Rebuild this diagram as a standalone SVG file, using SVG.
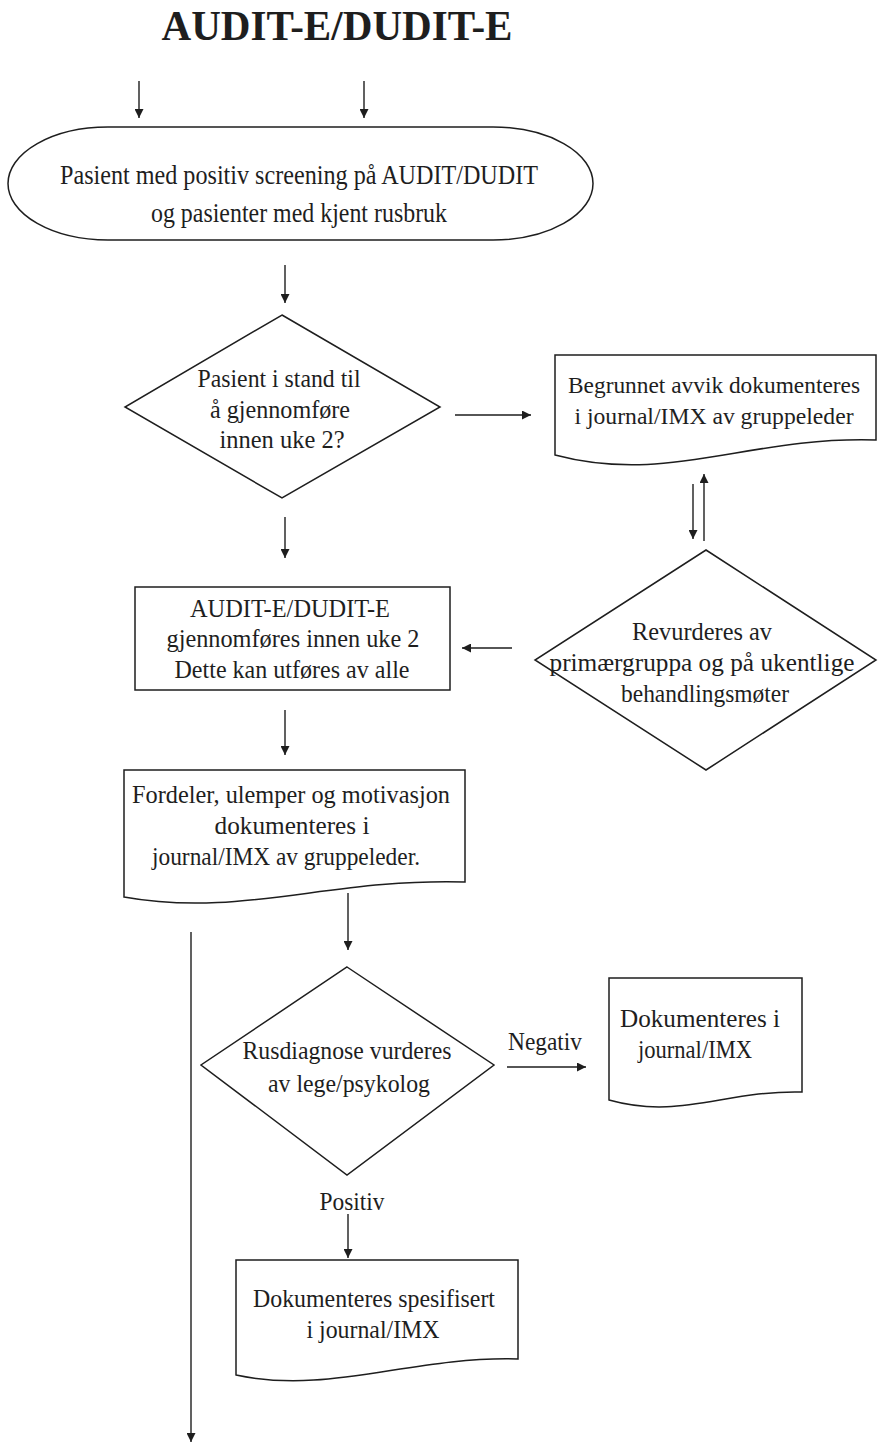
<svg xmlns="http://www.w3.org/2000/svg" width="878" height="1443" viewBox="0 0 878 1443">
  <defs>
    <marker id="ah" viewBox="0 0 10 10" refX="10" refY="5" markerWidth="9" markerHeight="9" markerUnits="userSpaceOnUse" orient="auto">
      <path d="M0,0 L10,5 L0,10 Z" fill="#1e1e1e"/>
    </marker>
    <style>
      .shape { fill: #ffffff; stroke: #1e1e1e; stroke-width: 1.5; }
      .edge { fill: none; stroke: #1e1e1e; stroke-width: 1.4; marker-end: url(#ah); }
      .t { font-family: "Liberation Serif", "Times New Roman", serif; font-size: 26px; fill: #1e1e1e; text-anchor: middle; }
      .big { font-size: 28px; }
      .mid { font-size: 25px; }
      .small { font-size: 23.5px; }
      .title { font-family: "Liberation Serif", "Times New Roman", serif; font-size: 42px; font-weight: bold; fill: #1e1e1e; text-anchor: middle; }
    </style>
  </defs>
  <rect x="0" y="0" width="878" height="1443" fill="#ffffff"/>

  <text class="title" x="337" y="40" textLength="351" lengthAdjust="spacingAndGlyphs">AUDIT-E/DUDIT-E</text>

  <g id="start">
    <rect class="shape" x="8" y="127" width="585" height="113" rx="100" ry="56.5"/>
    <text class="t big" x="299" y="184" textLength="478" lengthAdjust="spacingAndGlyphs">Pasient med positiv screening på  AUDIT/DUDIT</text>
    <text class="t big" x="299" y="222" textLength="296" lengthAdjust="spacingAndGlyphs">og pasienter med kjent rusbruk</text>
  </g>

  <g id="decision-able">
    <path class="shape" d="M282,315 L440,407 L282,498 L125,407 Z"/>
    <text class="t mid" x="279" y="387" textLength="163" lengthAdjust="spacingAndGlyphs">Pasient i stand til</text>
    <text class="t mid" x="280" y="418" textLength="140" lengthAdjust="spacingAndGlyphs">å gjennomføre</text>
    <text class="t mid" x="282" y="448" textLength="125" lengthAdjust="spacingAndGlyphs">innen uke 2?</text>
  </g>

  <g id="doc-deviation">
    <path class="shape" d="M555,355 H876 V440 C748,436 668,485 555,455 Z"/>
    <text class="t small" x="714" y="393" textLength="292" lengthAdjust="spacingAndGlyphs">Begrunnet avvik dokumenteres</text>
    <text class="t small" x="714" y="424" textLength="279" lengthAdjust="spacingAndGlyphs">i journal/IMX av gruppeleder</text>
  </g>

  <g id="decision-review">
    <path class="shape" d="M706,550 L876,660 L706,770 L535,660 Z"/>
    <text class="t" x="702" y="640" textLength="140" lengthAdjust="spacingAndGlyphs">Revurderes av</text>
    <text class="t" x="702" y="671" textLength="305" lengthAdjust="spacingAndGlyphs">primærgruppa  og  på ukentlige</text>
    <text class="t" x="705" y="702" textLength="168" lengthAdjust="spacingAndGlyphs">behandlingsmøter</text>
  </g>

  <g id="task-audit">
    <rect class="shape" x="135" y="587" width="315" height="103"/>
    <text class="t" x="290" y="617" textLength="200" lengthAdjust="spacingAndGlyphs">AUDIT-E/DUDIT-E</text>
    <text class="t" x="293" y="647" textLength="253" lengthAdjust="spacingAndGlyphs">gjennomføres innen uke 2</text>
    <text class="t" x="292" y="678" textLength="235" lengthAdjust="spacingAndGlyphs">Dette kan utføres av alle</text>
  </g>

  <g id="doc-motivation">
    <path class="shape" d="M124,770 H465 V882 C330,878 240,918 124,897 Z"/>
    <text class="t" x="291" y="803" textLength="318" lengthAdjust="spacingAndGlyphs">Fordeler, ulemper og motivasjon</text>
    <text class="t" x="292" y="834" textLength="155" lengthAdjust="spacingAndGlyphs">dokumenteres  i</text>
    <text class="t" x="286" y="865" textLength="268" lengthAdjust="spacingAndGlyphs">journal/IMX av gruppeleder.</text>
  </g>

  <g id="decision-diagnosis">
    <path class="shape" d="M347,967 L494,1065 L347,1175 L201,1065 Z"/>
    <text class="t" x="347" y="1059" textLength="209" lengthAdjust="spacingAndGlyphs">Rusdiagnose vurderes</text>
    <text class="t" x="349" y="1092" textLength="162" lengthAdjust="spacingAndGlyphs">av lege/psykolog</text>
  </g>

  <g id="doc-negative">
    <path class="shape" d="M609,978 H802 V1092 C725,1090 680,1120 609,1100 Z"/>
    <text class="t" x="700" y="1027" textLength="160" lengthAdjust="spacingAndGlyphs">Dokumenteres i</text>
    <text class="t" x="695" y="1058" textLength="114" lengthAdjust="spacingAndGlyphs">journal/IMX</text>
  </g>

  <g id="doc-positive">
    <path class="shape" d="M236,1260 H518 V1359 C410,1356 330,1395 236,1375 Z"/>
    <text class="t" x="374" y="1307" textLength="242" lengthAdjust="spacingAndGlyphs">Dokumenteres spesifisert</text>
    <text class="t" x="373" y="1338" textLength="133" lengthAdjust="spacingAndGlyphs">i journal/IMX</text>
  </g>

  <g id="connectors">
    <line class="edge" x1="139" y1="81" x2="139" y2="118"/>
    <line class="edge" x1="364" y1="81" x2="364" y2="118"/>
    <line class="edge" x1="285" y1="265" x2="285" y2="303"/>
    <line class="edge" x1="455" y1="415" x2="531" y2="415"/>
    <line class="edge" x1="693" y1="484" x2="693" y2="539"/>
    <line class="edge" x1="704" y1="541" x2="704" y2="474"/>
    <line class="edge" x1="512" y1="648" x2="462" y2="648"/>
    <line class="edge" x1="285" y1="517" x2="285" y2="558"/>
    <line class="edge" x1="285" y1="710" x2="285" y2="755"/>
    <line class="edge" x1="348" y1="893" x2="348" y2="950"/>
    <line class="edge" x1="191" y1="932" x2="191" y2="1442"/>
    <line class="edge" x1="507" y1="1067" x2="586" y2="1067"/>
    <text class="t" x="545" y="1050" textLength="74" lengthAdjust="spacingAndGlyphs">Negativ</text>
    <text class="t" x="352" y="1210" textLength="65" lengthAdjust="spacingAndGlyphs">Positiv</text>
    <line class="edge" x1="348" y1="1214" x2="348" y2="1258"/>
  </g>
</svg>
